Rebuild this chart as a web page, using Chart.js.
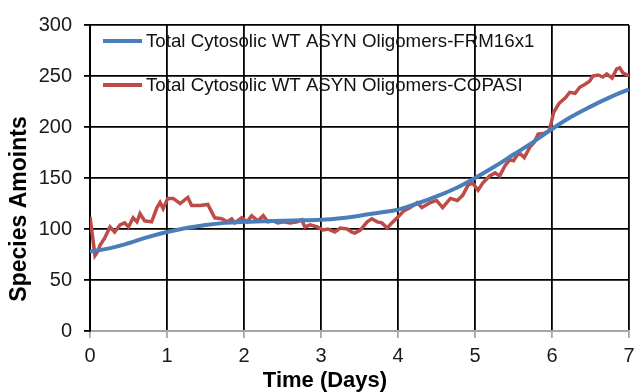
<!DOCTYPE html>
<html><head><meta charset="utf-8">
<script src="https://cdn.jsdelivr.net/npm/chart.js@4.4.1/dist/chart.umd.min.js"></script>
<style>html,body{margin:0;padding:0;background:#fff}#wrap{width:637px;height:392px}</style>
</head><body><div id="wrap"><canvas id="c" width="637" height="392"></canvas></div>
<script>
const seriesLabels = ["Total Cytosolic WT ASYN Oligomers-FRM16x1", "Total Cytosolic WT ASYN Oligomers-COPASI"];
const xTitle = "Time (Days)";
const yTitle = "Species Amoints";
const xTicks = [0,1,2,3,4,5,6,7];
const yTicks = [0,50,100,150,200,250,300];

const blueX = [0,0.25,0.5,0.75,1,1.25,1.5,1.75,2,2.25,2.5,2.75,3,3.25,3.5,3.75,4,4.25,4.5,4.75,5,5.25,5.5,5.75,6,6.25,6.5,6.75,7];
const blueY = [78,81,86,92,97,101,104,106,107,107.5,108,108.5,109,110.5,113,116,119,125,132,140,150,161,173,185,198,210,220,229,237];

const redX = [0,0.065,0.1,0.13,0.19,0.26,0.32,0.39,0.45,0.5,0.56,0.61,0.65,0.71,0.8,0.87,0.91,0.95,1.01,1.08,1.17,1.27,1.32,1.43,1.53,1.62,1.71,1.78,1.84,1.88,1.97,2.04,2.1,2.18,2.25,2.31,2.38,2.44,2.51,2.6,2.69,2.75,2.79,2.86,2.95,3.03,3.09,3.18,3.25,3.34,3.4,3.44,3.51,3.6,3.66,3.73,3.79,3.86,3.92,3.99,4.08,4.16,4.25,4.31,4.42,4.5,4.58,4.68,4.77,4.84,4.91,4.97,5.04,5.1,5.19,5.26,5.32,5.39,5.45,5.5,5.57,5.64,5.71,5.77,5.82,5.9,5.96,5.99,6.02,6.09,6.18,6.23,6.3,6.36,6.43,6.49,6.53,6.6,6.66,6.71,6.78,6.84,6.88,6.92,7];
const redY = [112,74,78,84,91,102,97,104,106,102,111,107,115,108,107,121,126,120,130,130,125,131,123,123,124,111,110,107,110,106,111,107,113,108,113,107,108,106,107,106,107,109,102,104,102,99,100,97,101,100,97,96,99,107,110,107,106,101,106,111,118,121,126,121,126,128,121,130,128,133,143,145,138,145,152,155,152,162,168,167,175,170,180,185,193,194,196,204,214,223,229,234,233,239,242,245,250,251,249,252,248,257,258,253,250];

const blueColor = "#4A7EBB";
const redColor = "#BE4B48";
const FONT = '"Liberation Sans", Arial, sans-serif';

const toPts = (xs, ys) => xs.map((x, i) => ({x: x, y: ys[i]}));

const extras = {
  id: 'extras',
  afterDatasetsDraw(chart) {
    const ctx = chart.ctx;
    const a = chart.chartArea;
    ctx.save();
    ctx.font = '18.7px ' + FONT;
    ctx.textBaseline = 'middle';
    ctx.fillStyle = '#111';
    chart.data.datasets.forEach((ds, i) => {
      const y = a.top + 16 + i * 44;
      ctx.strokeStyle = ds.borderColor;
      ctx.lineWidth = 4;
      ctx.beginPath();
      ctx.moveTo(a.left + 13, y);
      ctx.lineTo(a.left + 52, y);
      ctx.stroke();
      ctx.fillText(ds.label, a.left + 56, y + 1);
    });
    ctx.fillStyle = '#000';
    ctx.font = 'bold 22px ' + FONT;
    ctx.textAlign = 'center';
    ctx.fillText(xTitle, 325, 381);
    ctx.font = 'bold 23px ' + FONT;
    ctx.translate(19, 209);
    ctx.rotate(-Math.PI / 2);
    ctx.fillText(yTitle, 0, 1);
    ctx.restore();
  }
};

new Chart(document.getElementById('c'), {
  type: 'line',
  data: {
    datasets: [
      {label: seriesLabels[0], data: toPts(blueX, blueY), borderColor: blueColor, borderWidth: 4, pointRadius: 0, tension: 0.4, fill: false},
      {label: seriesLabels[1], data: toPts(redX, redY), borderColor: redColor, borderWidth: 3.5, pointRadius: 0, tension: 0, fill: false}
    ]
  },
  options: {
    responsive: false,
    animation: false,
    layout: {padding: {left: 0, right: 0, top: 25, bottom: 0}},
    plugins: {legend: {display: false}, tooltip: {enabled: false}},
    scales: {
      x: {
        type: 'linear', min: 0, max: 7,
        afterBuildTicks: s => { s.ticks = xTicks.map(v => ({value: v})); },
        afterFit: s => { s.height = 61; s.paddingRight = 8; },
        grid: {color: '#000', lineWidth: 1.8, tickColor: '#a6a6a6', tickLength: 7, drawTicks: true},
        border: {color: '#a6a6a6', width: 2},
        ticks: {color: '#1a1a1a', font: {size: 20, family: FONT}, padding: 6, maxRotation: 0},
        title: {display: false}
      },
      y: {
        min: 0, max: 300,
        afterBuildTicks: s => { s.ticks = yTicks.map(v => ({value: v})); },
        afterFit: s => { s.width = 90; },
        grid: {color: ctx => (ctx.tick && ctx.tick.value === 0) ? '#a6a6a6' : '#000', lineWidth: 1.8, tickColor: '#000', tickLength: 6},
        border: {color: '#000', width: 2},
        ticks: {color: '#1a1a1a', font: {size: 20, family: FONT}, padding: 12},
        title: {display: false}
      }
    }
  },
  plugins: [extras]
});
</script></body></html>
